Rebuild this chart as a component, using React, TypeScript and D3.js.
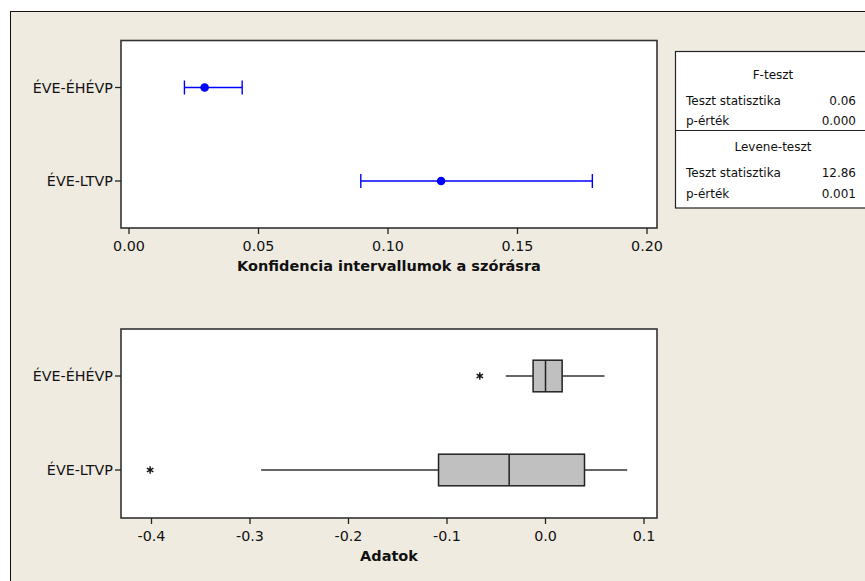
import React from "react";
import * as d3 from "d3";

const groups = ["ÉVE-ÉHÉVP", "ÉVE-LTVP"];
// Confidence intervals for standard deviation
const ciLower = [0.0214, 0.0895];
const ciPoint = [0.0292, 0.1205];
const ciUpper = [0.0437, 0.1789];
const ciTicks = [0.0, 0.05, 0.1, 0.15, 0.2];

// Boxplot statistics
const whiskerLow = [-0.0403, -0.2887];
const q1 = [-0.0126, -0.1086];
const median = [0.0, -0.0369];
const q3 = [0.0169, 0.0396];
const whiskerHigh = [0.0599, 0.0829];
const outliers = [[-0.0667], [-0.4014]];
const dataTicks = [-0.4, -0.3, -0.2, -0.1, 0.0, 0.1];

const fTestLabels = ["Teszt statisztika", "p-érték"];
const fTestValues = ["0.06", "0.000"];
const leveneLabels = ["Teszt statisztika", "p-érték"];
const leveneValues = ["12.86", "0.001"];

const W = 865;
const H = 581;
const FONT = "'DejaVu Sans', Verdana, sans-serif";
const BG = "#EFEBE1";

const fmtNum = (digits: number) => (t: number) => {
  const s = Math.abs(t).toFixed(digits);
  return t < -1e-9 ? "-" + s : s;
};

export default function App() {
  const left = 121;
  const right = 657;
  const top1 = 40.5;
  const bot1 = 228;
  const top2 = 329;
  const bot2 = 518;

  const x1 = d3.scaleLinear().domain([0, 0.2]).range([129, 647]);
  const y1 = d3.scalePoint<string>().domain(groups).range([top1 + 47, bot1 - 47]);
  const x2 = d3.scaleLinear().domain([-0.4, 0.1]).range([151.5, 644]);
  const y2 = d3.scalePoint<string>().domain(groups).range([top2 + 47, bot2 - 48]);

  const ast = d3.symbol().type(d3.symbolAsterisk).size(38)() as string;

  const yAxis = (y: d3.ScalePoint<string>) =>
    groups.map((g) => (
      <g key={g} transform={`translate(0,${y(g)})`}>
        <line x1={left - 6} x2={left} stroke="#222" strokeWidth={1.3} />
        <text x={left - 8} dy="0.35em" textAnchor="end" fontSize={14.3} fontFamily={FONT} fill="#111">
          {g}
        </text>
      </g>
    ));

  const xAxis = (x: d3.ScaleLinear<number, number>, ticks: number[], bottom: number, fmt: (t: number) => string) =>
    ticks.map((t) => (
      <g key={t} transform={`translate(${x(t)},${bottom})`}>
        <line y1={0} y2={6} stroke="#222" strokeWidth={1.3} />
        <text y={23} textAnchor="middle" fontSize={14.3} fontFamily={FONT} fill="#111">
          {fmt(t)}
        </text>
      </g>
    ));

  const capH = 7;

  return (
    <div style={{ position: "fixed", left: 0, top: 0 }}>
      <svg width={W} height={H} style={{ display: "block" }}>
        <rect x={0} y={0} width={W} height={H} fill="#fff" />
        <rect x={10.5} y={11.5} width={W} height={H} fill={BG} stroke="#111" strokeWidth={1} />

        {/* Top panel */}
        <rect x={left} y={top1} width={right - left} height={bot1 - top1} fill="#fff" stroke="#333" strokeWidth={1.6} />
        {yAxis(y1)}
        {xAxis(x1, ciTicks, bot1, fmtNum(2))}
        <text x={(left + right) / 2} y={bot1 + 43} textAnchor="middle" fontSize={14.5} fontWeight="bold" fontFamily={FONT} fill="#111">
          Konfidencia intervallumok a szórásra
        </text>
        {groups.map((g, i) => {
          const yy = y1(g) as number;
          return (
            <g key={g} stroke="#0000ff" strokeWidth={1.4}>
              <line x1={x1(ciLower[i])} x2={x1(ciUpper[i])} y1={yy} y2={yy} />
              <line x1={x1(ciLower[i])} x2={x1(ciLower[i])} y1={yy - capH} y2={yy + capH} />
              <line x1={x1(ciUpper[i])} x2={x1(ciUpper[i])} y1={yy - capH} y2={yy + capH} />
              <circle cx={x1(ciPoint[i])} cy={yy} r={4.3} fill="#0000ff" stroke="none" />
            </g>
          );
        })}

        {/* Bottom panel */}
        <rect x={left} y={top2} width={right - left} height={bot2 - top2} fill="#fff" stroke="#333" strokeWidth={1.6} />
        {yAxis(y2)}
        {xAxis(x2, dataTicks, bot2, fmtNum(1))}
        <text x={(left + right) / 2} y={bot2 + 43} textAnchor="middle" fontSize={14.5} fontWeight="bold" fontFamily={FONT} fill="#111">
          Adatok
        </text>
        {groups.map((g, i) => {
          const yy = y2(g) as number;
          const bh = 15.8;
          return (
            <g key={g}>
              <line x1={x2(whiskerLow[i])} x2={x2(q1[i])} y1={yy} y2={yy} stroke="#333" strokeWidth={1.5} />
              <line x1={x2(q3[i])} x2={x2(whiskerHigh[i])} y1={yy} y2={yy} stroke="#333" strokeWidth={1.5} />
              <rect x={x2(q1[i])} y={yy - bh} width={x2(q3[i]) - x2(q1[i])} height={bh * 2} fill="#C0C0C0" stroke="#222" strokeWidth={1.5} />
              <line x1={x2(median[i])} x2={x2(median[i])} y1={yy - bh} y2={yy + bh} stroke="#222" strokeWidth={1.5} />
              {outliers[i].map((o, j) => (
                <path key={j} d={ast} transform={`translate(${x2(o)},${yy})`} fill="none" stroke="#111" strokeWidth={1.4} />
              ))}
            </g>
          );
        })}

        {/* Table */}
        <rect x={675.5} y={51.5} width={220} height={156.5} fill="#fff" stroke="#222" strokeWidth={1.2} />
        <line x1={675.5} x2={W} y1={130.5} y2={130.5} stroke="#222" strokeWidth={1.2} />
        <text x={773} y={79} textAnchor="middle" fontSize={12} fontFamily={FONT} fill="#111">F-teszt</text>
        {fTestLabels.map((l, i) => (
          <g key={"f" + i}>
            <text x={686} y={105 + i * 19.5} fontSize={12} fontFamily={FONT} fill="#111">{l}</text>
            <text x={856} y={105 + i * 19.5} textAnchor="end" fontSize={12} fontFamily={FONT} fill="#111">{fTestValues[i]}</text>
          </g>
        ))}
        <text x={773} y={151} textAnchor="middle" fontSize={12} fontFamily={FONT} fill="#111">Levene-teszt</text>
        {leveneLabels.map((l, i) => (
          <g key={"l" + i}>
            <text x={686} y={177 + i * 21} fontSize={12} fontFamily={FONT} fill="#111">{l}</text>
            <text x={856} y={177 + i * 21} textAnchor="end" fontSize={12} fontFamily={FONT} fill="#111">{leveneValues[i]}</text>
          </g>
        ))}
      </svg>
    </div>
  );
}
